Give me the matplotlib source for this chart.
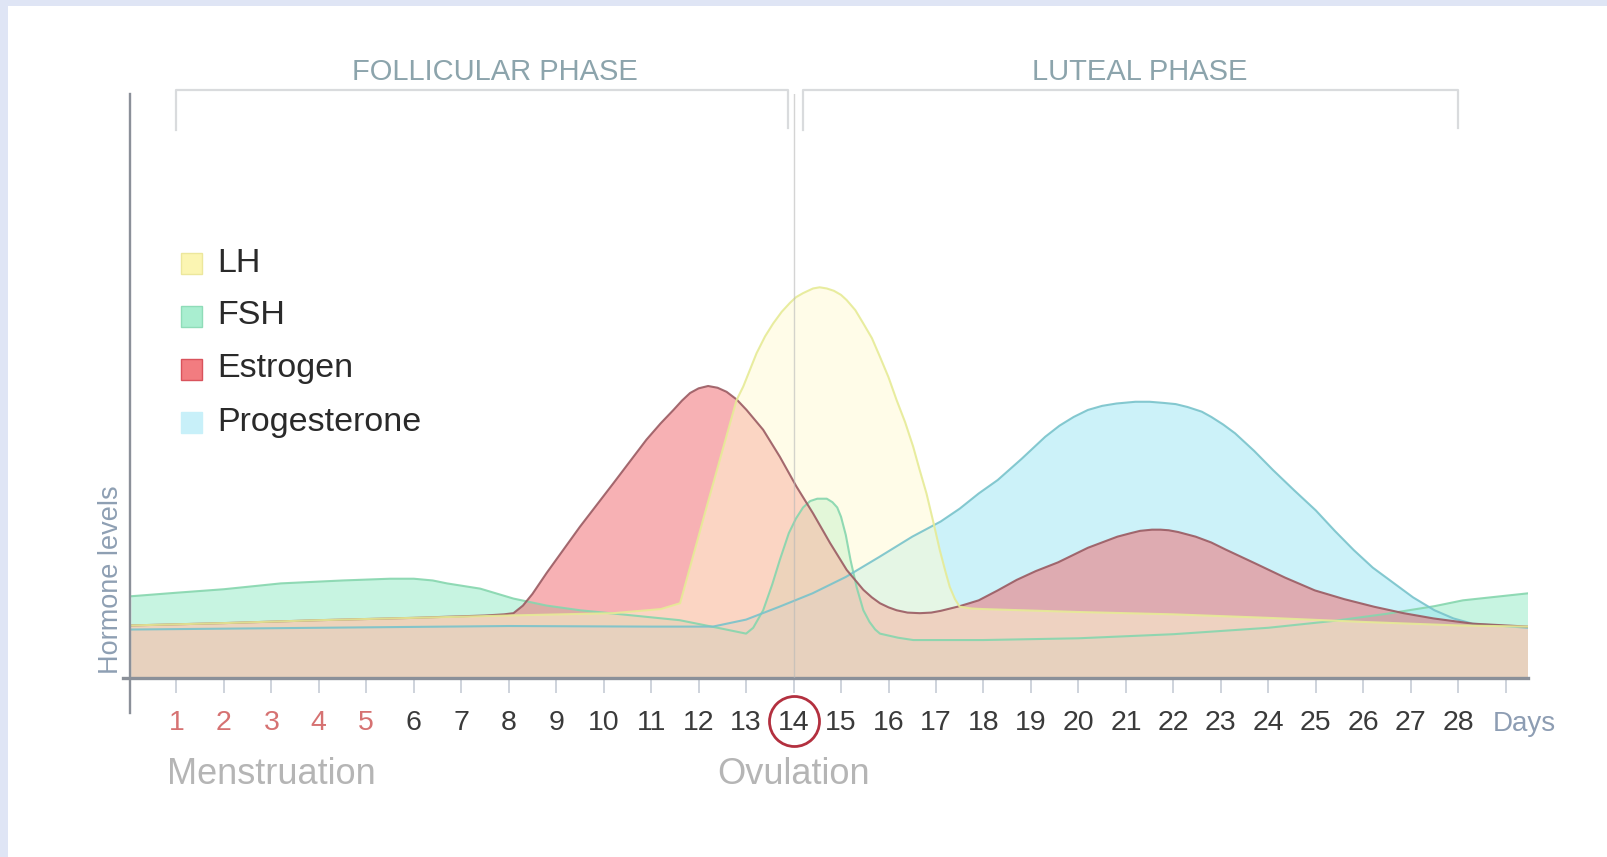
import matplotlib
matplotlib.use("Agg")
import matplotlib.pyplot as plt
from matplotlib.patches import Rectangle

plt.rcParams["font.family"] = ["Liberation Sans", "DejaVu Sans"]

W, H = 1608, 857  # output size in pixels

# ---------------------------------------------------------------------------
# Data: day of cycle vs. relative hormone level (0-100)
# ---------------------------------------------------------------------------
fsh_days = [0.05, 1.0, 2.0, 3.2, 4.5, 5.5, 6.0, 6.4, 6.7, 7.4, 8.1, 8.8, 9.5, 10.5, 11.6,
            12.4, 13.0, 13.15, 13.36, 13.55, 13.71, 13.9, 14.05, 14.2, 14.35, 14.5, 14.7,
            14.82, 14.92, 15.0, 15.1, 15.2, 15.33, 15.47, 15.6, 15.72, 15.82, 16.2, 16.52,
            18.0, 20.0, 22.0, 24.0, 25.4, 26.5, 27.5, 28.1, 29.47]
fsh_levels = [14.0, 14.6, 15.2, 16.2, 16.7, 17.0, 17.0, 16.7, 16.2, 15.3, 13.6, 12.4, 11.6,
              10.8, 9.9, 8.6, 7.6, 8.6, 11.6, 16.0, 20.2, 24.8, 27.3, 29.2, 30.3, 30.7,
              30.7, 30.1, 29.2, 27.6, 24.5, 20.2, 15.5, 11.6, 9.6, 8.3, 7.6, 6.9, 6.5,
              6.5, 6.8, 7.5, 8.6, 9.8, 11.0, 12.3, 13.3, 14.5]

prog_days = [0.05, 4.0, 8.0, 11.0, 12.3, 13.0, 13.7, 14.4, 15.1, 15.8, 16.5, 17.1,
             17.5, 17.9, 18.3, 18.8, 19.3, 19.6, 19.9, 20.2, 20.5, 20.8, 21.2, 21.5,
             21.8, 22.05, 22.3, 22.6, 22.8, 23.05, 23.3, 23.7, 24.1, 24.55, 25.0, 25.4,
             25.8, 26.2, 26.65, 27.05, 27.5, 27.9, 28.3, 29.47]
prog_levels = [8.3, 8.6, 8.9, 8.8, 8.8, 10.0, 12.2, 14.5, 17.3, 20.7, 24.2, 26.8,
               29.0, 31.6, 33.9, 37.5, 41.3, 43.2, 44.7, 45.9, 46.6, 47.0, 47.3, 47.3,
               47.1, 46.9, 46.4, 45.6, 44.7, 43.4, 41.9, 38.9, 35.6, 32.1, 28.7, 25.2,
               21.9, 18.9, 16.2, 13.8, 11.6, 10.2, 9.3, 8.6]

estr_days = [0.05, 2.0, 4.0, 6.0, 7.5, 7.9, 8.1, 8.3, 8.5, 8.8, 9.5, 10.2, 10.9, 11.2,
             11.47, 11.65, 11.82, 12.0, 12.2, 12.4, 12.59, 12.8, 13.01, 13.36, 13.71,
             14.06, 14.41, 14.77, 15.12, 15.47, 15.65, 15.82, 16.0, 16.17, 16.4, 16.66,
             16.9, 17.1, 17.5, 17.9, 18.3, 18.7, 19.1, 19.57, 20.2, 20.82, 21.1, 21.3,
             21.55, 21.73, 21.9, 22.1, 22.47, 22.8, 23.1, 23.73, 24.35, 24.98, 25.6,
             26.23, 26.85, 27.48, 28.31, 29.47]
estr_levels = [9.0, 9.4, 9.9, 10.3, 10.7, 10.9, 11.1, 12.4, 14.4, 18.0, 25.9, 33.3,
               40.8, 43.6, 45.9, 47.5, 48.8, 49.6, 50.0, 49.7, 49.0, 47.7, 45.9, 42.5,
               37.9, 32.8, 28.2, 23.1, 18.5, 15.1, 13.8, 12.8, 12.1, 11.6, 11.2, 11.1,
               11.2, 11.5, 12.3, 13.3, 15.0, 16.8, 18.3, 19.8, 22.3, 24.2, 24.8, 25.2,
               25.4, 25.4, 25.3, 25.0, 24.2, 23.2, 22.0, 19.6, 17.2, 15.0, 13.5,
               12.2, 11.1, 10.2, 9.3, 8.8]

lh_days = [0.05, 2.0, 4.0, 6.0, 8.0, 10.2, 11.2, 11.61, 12.2, 12.8, 12.94, 13.22, 13.4,
           13.57, 13.75, 13.92, 14.05, 14.2, 14.41, 14.55, 14.7, 14.85, 15.0, 15.12, 15.3,
           15.47, 15.65, 15.82, 16.0, 16.17, 16.35, 16.52, 16.65, 16.8, 16.95, 17.08,
           17.2, 17.29, 17.4, 17.5, 17.75, 18.0, 20.0, 22.0, 24.0, 26.0, 28.0, 29.47]
lh_levels = [9.0, 9.4, 9.9, 10.3, 10.7, 11.1, 11.8, 12.8, 30.2, 47.6, 49.9, 55.6, 58.5,
             60.7, 62.7, 64.2, 65.2, 65.9, 66.7, 66.9, 66.7, 66.3, 65.6, 64.7, 63.0,
             60.7, 58.2, 55.0, 51.5, 47.6, 43.8, 39.6, 35.8, 31.6, 26.5, 21.9,
             18.2, 15.6, 13.5, 12.2, 11.9, 11.8, 11.3, 10.9, 10.3, 9.6, 9.0, 8.8]

day_ticks = list(range(1, 30))
day_labels = [str(d) for d in range(1, 29)] + [""]
menses_days = 5
ovulation_day = 14

# phase name, bracket start day, bracket end day, label centre day
phases = [("FOLLICULAR PHASE", 1.0, 13.88, 7.7),
          ("LUTEAL PHASE", 14.2, 28.0, 21.3)]

legend_names = ["LH", "FSH", "Estrogen", "Progesterone"]

# ---------------------------------------------------------------------------
# Style
# ---------------------------------------------------------------------------
# (fill colour, edge colour) — drawn bottom to top, each at alpha 0.5
LAYERS = [
    (fsh_days, fsh_levels, "#91ebc5", "#86d6ae"),
    (prog_days, prog_levels, "#9be7f5", "#79c3cb"),
    (estr_days, estr_levels, "#f1656a", "#9a5b62"),
    (lh_days, lh_levels, "#fffad2", "#e6eb96"),
]
LEGEND_FACE = ["#fbf5b2", "#a9eed0", "#f27c80", "#c8f0f9"]
LEGEND_EDGE = ["#ece79c", "#8fdcb8", "#d9535c", "#c8f0f9"]
AXIS_GREY = "#8b9099"


def fig_xy(x, y):
    """pixel position (from top-left) -> figure fraction"""
    return x / W, 1 - y / H


fig = plt.figure(figsize=(W / 100, H / 100), dpi=100, facecolor="#dfe5f5")
fig.add_artist(Rectangle(fig_xy(8, H), 1, 1 - 6 / H, transform=fig.transFigure,
                         facecolor="white", edgecolor="none", zorder=-5))

ax = fig.add_axes([130 / W, (H - 678) / H, 1398 / W, 584 / H])
ax.set_facecolor("none")
x_left, x_right = 0.023, 29.47
ax.set_xlim(x_left, x_right)
ax.set_ylim(0, 100)
for s in ax.spines.values():
    s.set_visible(False)

for days, levels, face, edge in LAYERS:
    ax.fill_between(days, 0, levels, facecolor=face, alpha=0.5, linewidth=0)
    ax.plot(days, levels, color=edge, linewidth=1.5, alpha=0.9,
            solid_joinstyle="round")

# axis lines
ax.axhline(0, xmin=-0.005, xmax=1, color=AXIS_GREY, linewidth=2.4, clip_on=False, zorder=5)
ax.axvline(x_left, ymin=-0.06, ymax=1, color=AXIS_GREY, linewidth=1.7, clip_on=False, zorder=5)
ax.axvline(ovulation_day, ymin=0, ymax=1, color="#b8b8b8", alpha=0.6, linewidth=1.0, zorder=6)

# day ticks
ax.set_yticks([])
ax.set_xticks(day_ticks)
ax.set_xticklabels(day_labels, fontsize=20.5)
ax.tick_params(axis="x", direction="out", length=11, width=1.2, color="#c6ccd6", pad=12)
for d, lab in zip(day_ticks, ax.get_xticklabels()):
    lab.set_color("#d67272" if d <= menses_days else "#3a3a3a")

xt = ax.get_xaxis_transform()
ax.plot([ovulation_day], [-0.074], marker="o", markersize=36, markerfacecolor="none",
        markeredgecolor="#b3303f", markeredgewidth=2.0, transform=xt, clip_on=False)
ax.text(29.4, -0.078, "Days", transform=xt, ha="center", va="center",
        fontsize=20, color="#8d9db3")
ax.text((1 + menses_days) / 2, -0.165, "Menstruation", transform=xt, ha="center",
        va="center", fontsize=26, color="#b5b5b5")
ax.text(ovulation_day, -0.165, "Ovulation", transform=xt, ha="center",
        va="center", fontsize=26, color="#b5b5b5")

# phase brackets
for name, start, end, label_day in phases:
    ax.plot([start, start, end, end], [93.8, 100.7, 100.7, 94.2], color="#d9dbdd",
            linewidth=1.6, clip_on=False)
    ax.text(label_day, 103.8, name, ha="center", va="center", fontsize=21,
            color="#8ca4ac", clip_on=False)

fig.text(*fig_xy(110.8, 579.4), "Hormone levels", rotation=90, ha="center",
         va="center", fontsize=19.5, color="#8e9fb3")

# legend
for i, (name, face, edge) in enumerate(zip(legend_names, LEGEND_FACE, LEGEND_EDGE)):
    cy = 263 + i * 53
    fig.add_artist(Rectangle(fig_xy(181, cy + 10.5), 21 / W, 21 / H,
                             transform=fig.transFigure, facecolor=face,
                             edgecolor=edge, linewidth=1.0))
    fig.text(*fig_xy(217, cy), name, ha="left", va="center", fontsize=24.5,
             color="#2a2a2a")

fig.savefig("out.png", dpi=100, facecolor=fig.get_facecolor())
